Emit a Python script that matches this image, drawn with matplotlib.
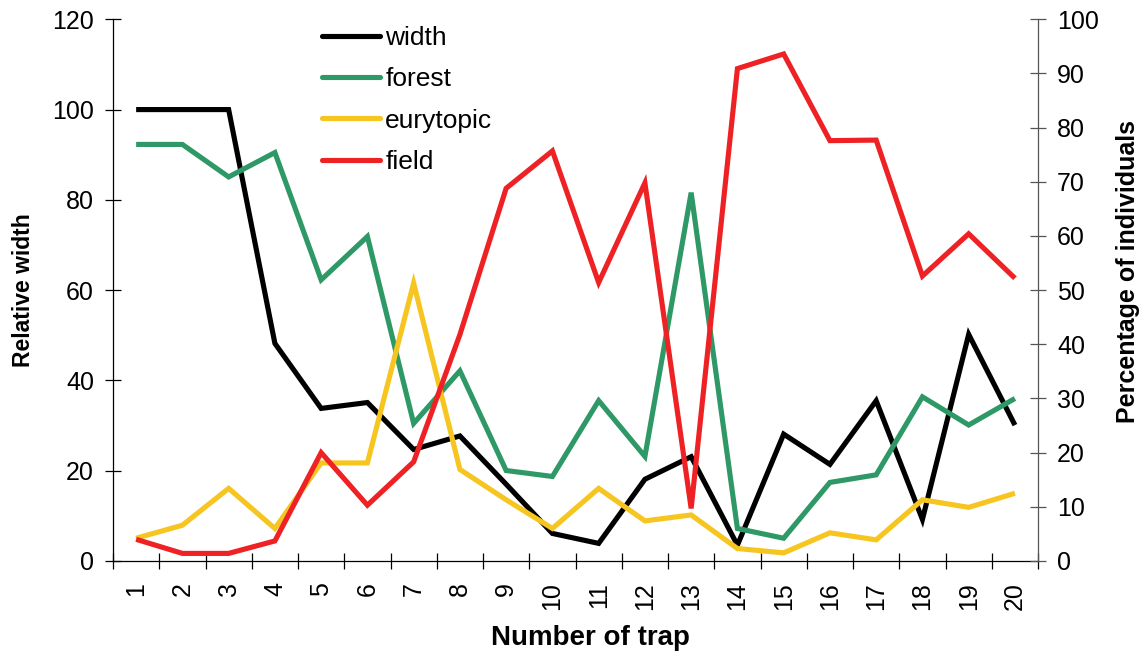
import matplotlib
matplotlib.use("Agg")
import matplotlib.pyplot as plt
from matplotlib.lines import Line2D

plt.rcParams['font.family'] = ['Liberation Sans', 'DejaVu Sans']

traps = list(range(1, 21))
tick_labels = [str(t) for t in traps]

width = [100, 100, 100, 48.2, 33.8, 35.1, 24.7, 27.7, 17.0, 6.1,
         3.9, 18.1, 23.1, 3.5, 28.1, 21.4, 35.5, 9.2, 50.2, 30.1]
forest = [76.9, 76.9, 70.9, 75.4, 51.9, 59.9, 25.4, 35.1, 16.7, 15.6,
          29.6, 19.3, 68.0, 6.0, 4.2, 14.5, 15.9, 30.3, 25.1, 30.0]
eurytopic = [4.2, 6.6, 13.4, 6.0, 18.1, 18.1, 51.3, 16.9, 11.3, 6.0,
             13.4, 7.4, 8.5, 2.3, 1.5, 5.2, 3.9, 11.3, 9.9, 12.5]
field = [4.0, 1.4, 1.4, 3.7, 20.0, 10.3, 18.3, 41.8, 68.8, 75.7,
         51.4, 69.8, 9.7, 90.9, 93.6, 77.6, 77.7, 52.6, 60.4, 52.2]

c_black = '#000000'
c_green = '#2E9966'
c_yellow = '#F6C51F'
c_red = '#EE2224'
lw = 3.7

fig = plt.figure(figsize=(11.45, 6.52), dpi=100)
ax = fig.add_axes([0.0987, 0.1396, 0.8079, 0.8308])
ax2 = ax.twinx()

ax.plot(traps, width, color=c_black, lw=lw, solid_joinstyle='miter', solid_capstyle='butt')
ax2.plot(traps, forest, color=c_green, lw=lw, solid_joinstyle='miter', solid_capstyle='butt')
ax2.plot(traps, eurytopic, color=c_yellow, lw=lw, solid_joinstyle='miter', solid_capstyle='butt')
ax2.plot(traps, field, color=c_red, lw=lw, solid_joinstyle='miter', solid_capstyle='butt')

ax.set_xlim(0.5, 20.5)
ax.set_ylim(0, 120)
ax2.set_ylim(0, 100)
ax.set_yticks(range(0, 121, 20))
ax2.set_yticks(range(0, 101, 10))

ax.set_xticks(traps)
ax.set_xticklabels(tick_labels, rotation=90, fontsize=18)
ax.set_xticks([t + 0.5 for t in [0] + traps], minor=True)
ax.tick_params(axis='x', which='major', length=0, pad=15)
ax.tick_params(axis='x', which='minor', direction='inout', length=11.5, width=0.9, color='black')
ax.tick_params(axis='y', direction='inout', length=11.5, width=0.9, labelsize=18, pad=8)
ax2.tick_params(axis='y', direction='inout', length=11.5, width=0.9, labelsize=18, pad=8, color='#555555')

for a in (ax, ax2):
    a.spines['top'].set_visible(False)
ax.spines['right'].set_visible(False)
ax2.spines['left'].set_visible(False)
ax2.spines['bottom'].set_visible(False)
ax2.spines['right'].set_color('#555555')
ax.spines['left'].set_linewidth(0.9)
ax.spines['bottom'].set_linewidth(0.9)
ax2.spines['right'].set_linewidth(0.9)

ax.set_ylabel('Relative width', fontsize=16.5, fontweight='bold', labelpad=12)
ax2.set_ylabel('Percentage of individuals', fontsize=18, fontweight='bold', labelpad=12)
ax.set_xlabel('Number of trap', fontsize=20, fontweight='bold', labelpad=12)
ax.xaxis.set_label_coords(0.516, -0.118)
ax2.yaxis.set_label_coords(1.084, 0.535)

handles = [Line2D([], [], color=c, lw=lw, solid_capstyle='round') for c in (c_black, c_green, c_yellow, c_red)]
labels = ['width', 'forest', 'eurytopic', 'field']
leg = ax2.legend(handles, labels, loc='upper left', bbox_to_anchor=(0.226, 0.988),
                 bbox_transform=ax.transAxes,
                 frameon=False, fontsize=19, handlelength=2.2, handletextpad=0.19,
                 labelspacing=0.66, borderaxespad=0, borderpad=0)

fig.savefig('out.png', dpi=100)
